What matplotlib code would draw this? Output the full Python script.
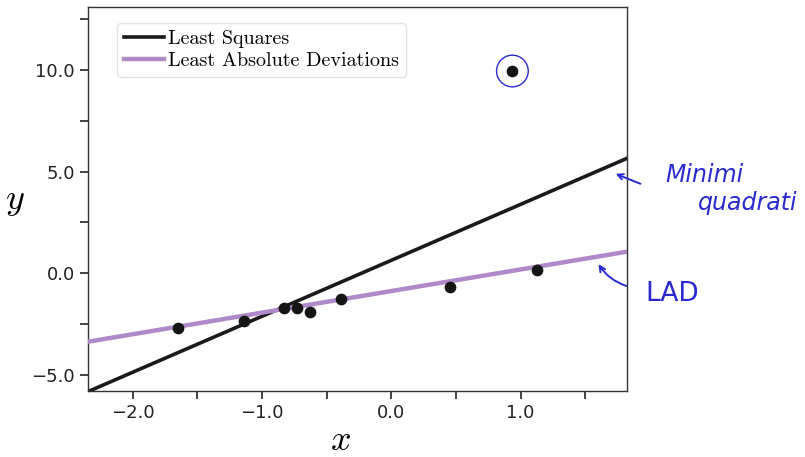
import numpy as np
import matplotlib
matplotlib.use("Agg")
import matplotlib.pyplot as plt
from matplotlib.ticker import MultipleLocator, FuncFormatter

# data points
x_pts = [-1.651, -1.141, -0.827, -0.729, -0.631, -0.386, 0.456, 1.126, 0.937]
y_pts = [-2.68, -2.33, -1.69, -1.72, -1.89, -1.27, -0.66, 0.16, 9.95]

# LAD fit (slope, intercept)
lad_coef = [1.063, -0.877]

x_lim = [-2.345, 1.824]
y_lim = [-5.77, 13.1]

plt.rcParams["mathtext.fontset"] = "cm"

ls_coef = np.polyfit(x_pts, y_pts, 1)  # least squares
x_line = np.linspace(x_lim[0], x_lim[1], 50)

fig = plt.figure(figsize=(8.05, 4.57), dpi=100)
ax = fig.add_axes([0.1093, 0.1455, 0.6697, 0.8392])

ax.plot(x_line, np.polyval(ls_coef, x_line), color="#1a1a1a", lw=2.6,
        label="Least Squares", zorder=2)
ax.plot(x_line, np.polyval(lad_coef, x_line), color="#b08ac8", lw=3.2,
        label="Least Absolute Deviations", zorder=3)
ax.scatter(x_pts, y_pts, s=55, color="#151515", zorder=4)

ax.set_xlim(x_lim)
ax.set_ylim(y_lim)

ax.xaxis.set_major_locator(MultipleLocator(0.5))
ax.yaxis.set_major_locator(MultipleLocator(2.5))
ax.xaxis.set_major_formatter(FuncFormatter(
    lambda v, p: f"{v:.1f}".replace("-", "\u2212") if abs(v - round(v)) < 1e-6 else ""))
ax.yaxis.set_major_formatter(FuncFormatter(
    lambda v, p: f"{v:.1f}".replace("-", "\u2212") if abs(v / 5 - round(v / 5)) < 1e-6 else ""))
ax.tick_params(labelsize=13, length=6, width=1.2, color="#222222", labelcolor="#222222")
for sp in ax.spines.values():
    sp.set_color("#333333")
    sp.set_linewidth(1.0)

ax.set_xlabel("$x$", fontsize=26)
ax.xaxis.set_label_coords(0.468, -0.085)
ax.set_ylabel("$y$", fontsize=26, rotation=0)
ax.yaxis.set_label_coords(-0.135, 0.45)

leg = ax.legend(loc="upper left", prop={"family": "cmr10", "size": 14.5},
                handlelength=2.0, handletextpad=0.2, borderpad=0.35,
                labelspacing=0.2, frameon=True, bbox_to_anchor=(0.035, 0.985))
leg.get_frame().set_edgecolor("#dddddd")

# handwritten-style annotations
blue = "#2a2ad0"
ax.scatter([x_pts[-1]], [y_pts[-1]], s=520, facecolors="none", edgecolors=blue,
           lw=1.0, zorder=5)
ax.annotate("", xy=(1.716, 4.94), xytext=(1.947, 4.35),
            arrowprops=dict(arrowstyle="->", color=blue, lw=1.4),
            annotation_clip=False)
ax.text(2.117, 4.85, "Minimi", color=blue, fontsize=17,
        family="DejaVu Sans", style="italic", va="center", ha="left",
        clip_on=False)
ax.text(2.372, 3.45, "quadrati", color=blue, fontsize=17,
        family="DejaVu Sans", style="italic", va="center", ha="left",
        clip_on=False)
ax.annotate("", xy=(1.592, 0.56), xytext=(1.839, -0.67),
            arrowprops=dict(arrowstyle="->", color=blue, lw=1.4,
                            connectionstyle="arc3,rad=-0.2"),
            annotation_clip=False)
ax.text(1.963, -1.0, "LAD", color=blue, fontsize=19, family="DejaVu Sans",
        va="center", ha="left", clip_on=False)

fig.savefig("out.png", dpi=100)
